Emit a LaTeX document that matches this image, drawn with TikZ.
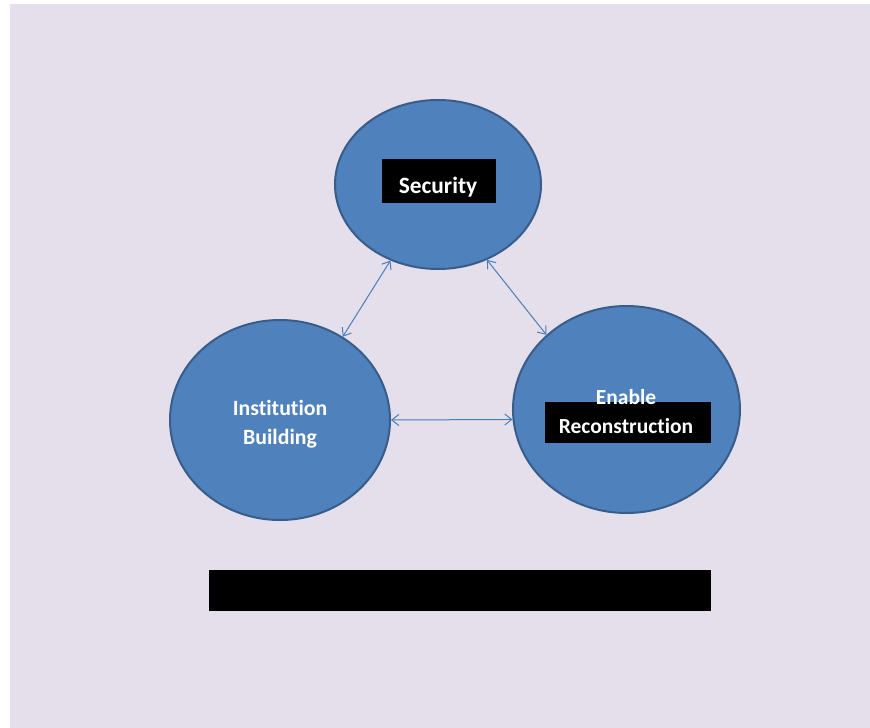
\documentclass[tikz,border=0pt]{standalone}
\usepackage{fontspec}
\setmainfont[Ligatures={NoCommon}]{Carlito}
\usetikzlibrary{shapes.geometric,arrows.meta}
\definecolor{lav}{HTML}{E5DFEC}
\definecolor{efill}{HTML}{4F81BD}
\definecolor{eline}{HTML}{385D8A}
\definecolor{aline}{HTML}{4A7EBB}
\tikzset{
  circ/.style={ellipse, draw=eline, line width=2pt, fill=efill, inner sep=0pt},
  blk/.style={fill=black, inner sep=0pt, draw=none},
  lbl/.style={text=white, font=\fontsize{21.5}{25}\selectfont\bfseries, inner sep=0pt, align=center},
  link/.style={draw=aline, line width=1pt, {Straight Barb[length=7pt,width=11pt]}-{Straight Barb[length=7pt,width=11pt]}}
}
\begin{document}
\begin{tikzpicture}[x=1pt,y=-1pt]
\useasboundingbox (0,0) rectangle (870,728);
\fill[white] (0,0) rectangle (870,728);
\fill[lav] (10,4) rectangle (870,728);
\node[circ, minimum width=206pt, minimum height=169pt] (sec) at (438,184.5) {};
\node[circ, minimum width=220pt, minimum height=200pt] (inst) at (280,420) {};
\node[circ, minimum width=227pt, minimum height=207pt] (enab) at (626.5,409.5) {};
\node[blk, minimum width=114pt, minimum height=44pt] (secbox) at (439,181) {};
\node[lbl, font=\fontsize{23.4}{28}\selectfont\bfseries] (sectxt) at (438,187) {Security};
\node[blk, minimum width=166pt, minimum height=41pt] (enbox) at (628,422.5) {};
\node[lbl] (entxt1) at (626,397) {Enable};
\node[lbl] (entxt2) at (626,426) {Reconstruction};
\node[lbl, font=\fontsize{21.8}{29}\selectfont\bfseries] (insttxt) at (280,424) {Institution\\Building};
\node[blk, minimum width=502pt, minimum height=41pt] (bottombar) at (460,590.5) {};
\draw[link] (sec.-122.3) -- (inst.53.6);
\draw[link] (sec.-57.7) -- (enab.137.6);
\draw[link] (inst.-0.5) -- (enab.185.8);
\end{tikzpicture}
\end{document}
